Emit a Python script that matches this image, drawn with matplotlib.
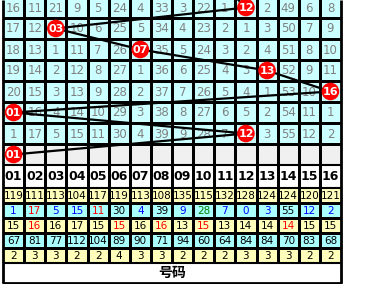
import matplotlib
matplotlib.use("Agg")
import matplotlib.pyplot as plt
from matplotlib.patches import Rectangle, Circle

# ---- data ----
columns = [f"{i:02d}" for i in range(1, 17)]

# omission values in the trend grid (0 = ball drawn in that cell)
grid_rows = [
    [16, 11, 21, 9, 5, 24, 4, 33, 3, 22, 1, 0, 2, 49, 6, 8],
    [17, 12, 0, 10, 6, 25, 5, 34, 4, 23, 2, 1, 3, 50, 7, 9],
    [18, 13, 1, 11, 7, 26, 0, 35, 5, 24, 3, 2, 4, 51, 8, 10],
    [19, 14, 2, 12, 8, 27, 1, 36, 6, 25, 4, 3, 0, 52, 9, 11],
    [20, 15, 3, 13, 9, 28, 2, 37, 7, 26, 5, 4, 1, 53, 10, 0],
    [0, 16, 4, 14, 10, 29, 3, 38, 8, 27, 6, 5, 2, 54, 11, 1],
    [1, 17, 5, 15, 11, 30, 4, 39, 9, 28, 7, 0, 3, 55, 12, 2],
]
prev_ball = 11            # drawn in the row just above the visible area
balls = [12, 3, 7, 13, 16, 1, 12, 1]   # last one is the forecast row

stat_total = [119, 111, 113, 104, 117, 119, 113, 108, 135, 115, 132, 128, 124, 124, 120, 121]
stat_cur = [1, 17, 5, 15, 11, 30, 4, 39, 9, 28, 7, 0, 3, 55, 12, 2]
stat_cur_col = ["b", "r", "b", "b", "r", "k", "b", "k", "b", "g", "b", "b", "b", "k", "b", "b"]
stat_avg = [15, 16, 16, 17, 15, 15, 16, 16, 13, 15, 13, 14, 14, 14, 15, 15]
stat_avg_col = ["k", "r", "k", "k", "k", "r", "k", "r", "k", "r", "k", "k", "k", "r", "k", "k"]
stat_max = [67, 81, 77, 112, 104, 89, 90, 71, 94, 60, 64, 84, 84, 70, 83, 68]
stat_run = [2, 3, 3, 2, 2, 4, 3, 3, 2, 2, 2, 3, 3, 3, 2, 2]
footer = "号码"

# ---- layout (pixels) ----
W, H = 380, 284
X0, X1 = 3, 341
CW = (X1 - X0) / 16
GT, RH = -3, 21
HT = GT + 8 * RH          # header top
HB = HT + 23              # header bottom
SH = 15
FT = HB + 5 * SH          # footer top
FB = 283

cmap = {"b": "#0000ff", "r": "#ff0000", "k": "#000000", "g": "#008000"}
plt.rcParams["font.family"] = ["DejaVu Sans"]

fig = plt.figure(figsize=(W / 100, H / 100), dpi=100)
ax = fig.add_axes([0, 0, 1, 1])
ax.set_xlim(0, W)
ax.set_ylim(H, 0)
ax.axis("off")


def cx(c):
    return X0 + (c + 0.5) * CW


# backgrounds
ax.add_patch(Rectangle((X0, GT), X1 - X0, 7 * RH, fc="#ccffff", ec="none"))
ax.add_patch(Rectangle((X0, GT + 7 * RH), X1 - X0, RH, fc="#f0f0f0", ec="none"))
stat_bg = ["#ffffbb", "#aaffff", "#ffffbb", "#aaffff", "#ffffbb"]
for i, bg in enumerate(stat_bg):
    ax.add_patch(Rectangle((X0, HB + i * SH), X1 - X0, SH, fc=bg, ec="none"))

# grid lines
for r in range(1, 8):
    ax.hlines(GT + r * RH, X0, X1, color="k", lw=0.8, antialiased=False)
for i in range(1, 5):
    ax.hlines(HB + i * SH, X0, X1, color="k", lw=0.8, antialiased=False)
ax.hlines([HT, HB, FT], X0, X1, color="k", lw=1.5)
ax.hlines(FB, X0 - 1, X1 + 1, color="k", lw=2)
for c in range(1, 16):
    ax.vlines(X0 + c * CW, 0, FT, color="k", lw=0.8, antialiased=False)
ax.vlines([X0, X1], 0, FB, color="k", lw=2)

# grid numbers
for r, row in enumerate(grid_rows):
    yc = GT + (r + 0.5) * RH
    for c, v in enumerate(row):
        if v:
            ax.text(cx(c), yc + 0.5, str(v), ha="center", va="center",
                    fontsize=8.5, color="#808080")

# trend line through the drawn balls
xs = [cx(prev_ball - 1)] + [cx(b - 1) for b in balls]
ys = [GT - 0.5 * RH] + [GT + (r + 0.5) * RH for r in range(len(balls))]
ax.plot(xs, ys, color="k", lw=1.6, zorder=3)

for r, b in enumerate(balls):
    x, y = cx(b - 1), GT + (r + 0.5) * RH
    ax.add_patch(Circle((x, y), 8.8, fc="#ff0000", ec="none", zorder=4))
    ax.text(x, y + 0.5, f"{b:02d}", ha="center", va="center", fontsize=8,
            color="white", fontweight="bold", zorder=5)

# header
for c, lab in enumerate(columns):
    ax.text(cx(c), (HT + HB) / 2 + 0.5, lab, ha="center", va="center",
            fontsize=9, fontweight="bold")

# statistics rows
stats = [
    (stat_total, ["k"] * 16),
    (stat_cur, stat_cur_col),
    (stat_avg, stat_avg_col),
    (stat_max, ["k"] * 16),
    (stat_run, ["k"] * 16),
]
for i, (vals, cols) in enumerate(stats):
    yc = HB + (i + 0.5) * SH
    for c, (v, col) in enumerate(zip(vals, cols)):
        ax.text(cx(c), yc + 0.5, str(v), ha="center", va="center",
                fontsize=7.5, color=cmap[col])

ax.text((X0 + X1) / 2, (FT + FB) / 2, footer, ha="center", va="center",
        fontsize=10, fontweight="bold", family=["Noto Sans CJK SC", "DejaVu Sans"])

fig.savefig("out.png", dpi=100)
